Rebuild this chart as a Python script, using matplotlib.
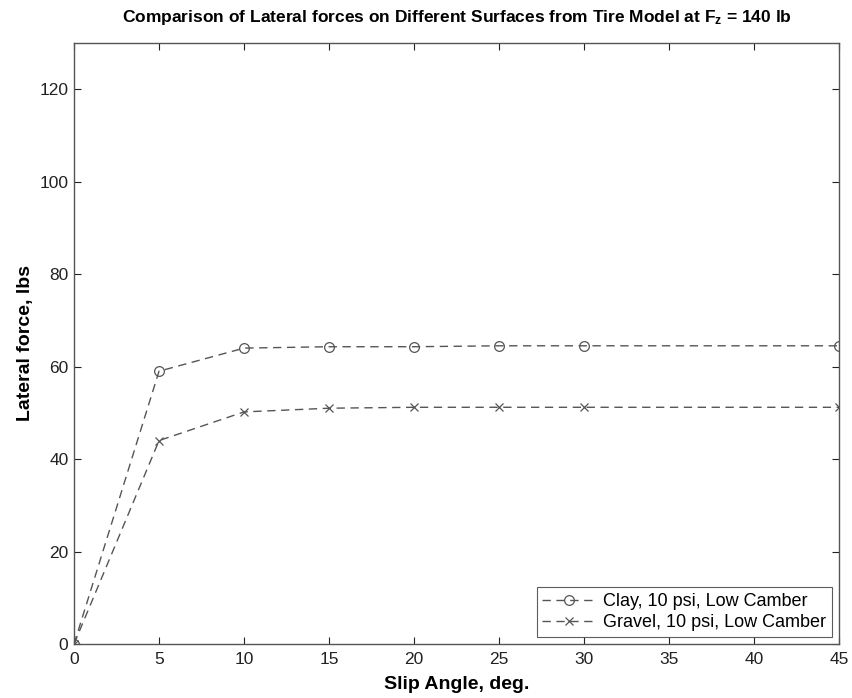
import matplotlib
matplotlib.use("Agg")
import matplotlib.pyplot as plt

plt.rcParams['font.family'] = ['Liberation Sans', 'DejaVu Sans']
plt.rcParams['mathtext.fontset'] = 'custom'
plt.rcParams['mathtext.rm'] = 'Liberation Sans'
plt.rcParams['mathtext.bf'] = 'Liberation Sans:bold'
plt.rcParams['mathtext.it'] = 'Liberation Sans:italic'

slip_angle = [0, 5, 10, 15, 20, 25, 30, 45]
clay_force = [0, 59.0, 64.0, 64.3, 64.3, 64.5, 64.5, 64.5]
gravel_force = [0, 44.0, 50.2, 51.0, 51.2, 51.2, 51.2, 51.2]
x_ticks = [0, 5, 10, 15, 20, 25, 30, 35, 40, 45]
y_ticks = [0, 20, 40, 60, 80, 100, 120]

fig = plt.figure(figsize=(8.53, 6.98), dpi=100)
ax = fig.add_axes([0.0868, 0.0774, 0.8968, 0.861])

line_color = '#555555'
ax.plot(slip_angle, clay_force, linestyle='--', color=line_color, lw=1.0,
        marker='o', markersize=7, markerfacecolor='none', markeredgecolor=line_color,
        markeredgewidth=0.9, dashes=(6, 4), label='Clay, 10 psi, Low Camber')
ax.plot(slip_angle, gravel_force, linestyle='--', color=line_color, lw=1.0,
        marker='x', markersize=6, markeredgecolor=line_color,
        markeredgewidth=0.9, dashes=(6, 4), label='Gravel, 10 psi, Low Camber')

ax.set_xlim(0, 45)
ax.set_ylim(0, 130)
ax.set_xticks(x_ticks)
ax.set_yticks(y_ticks)
ax.tick_params(direction='in', length=5, labelsize=12.5, colors='#222222',
               top=True, right=True, width=0.8)
ax.tick_params(axis='x', pad=6)
ax.tick_params(axis='y', pad=4)
for s in ax.spines.values():
    s.set_color('#555555')
    s.set_linewidth(1.0)

ax.set_xlabel('Slip Angle, deg.', fontsize=14, fontweight='bold', labelpad=6)
ax.set_ylabel('Lateral force, lbs', fontsize=14, fontweight='bold', labelpad=4)
ax.set_title('Comparison of Lateral forces on Different Surfaces from Tire Model at '
             'F$_\\mathbf{z}$ = 140 lb',
             fontsize=12.5, fontweight='bold', pad=15)

leg = ax.legend(loc='lower right', fontsize=13, frameon=True, fancybox=False,
                borderaxespad=0.4, handlelength=3.0, handletextpad=0.4,
                borderpad=0.3, labelspacing=0.25)
leg.get_frame().set_edgecolor('#333333')
leg.get_frame().set_linewidth(0.8)

fig.savefig('out.png', dpi=100)
